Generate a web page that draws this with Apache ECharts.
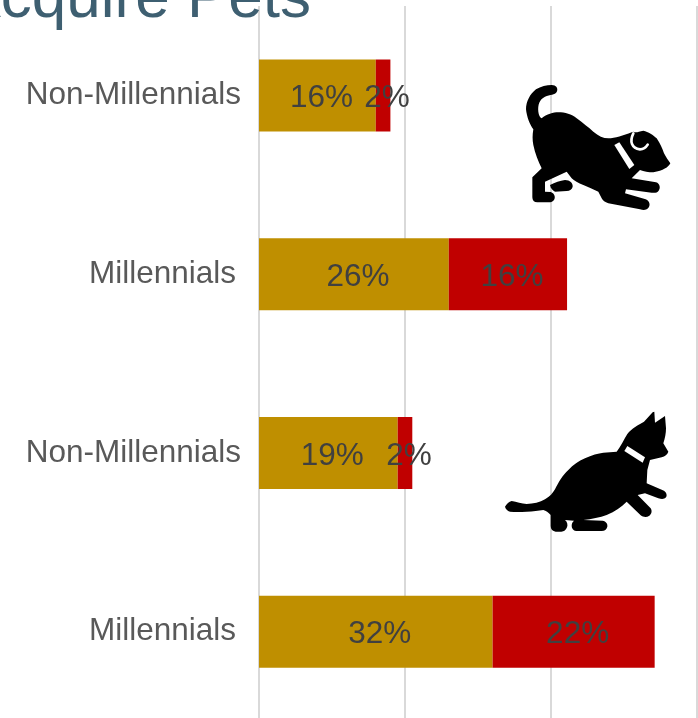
<!DOCTYPE html>
<html><head><meta charset="utf-8">
<style>html,body{margin:0;padding:0;background:#fff}#c{width:698px;height:718px}</style>
<script src="https://cdn.jsdelivr.net/npm/echarts@6/dist/echarts.min.js"></script>
</head><body><div id="c"></div>
<script>
const categories = ['Non-Millennials','Millennials','Non-Millennials','Millennials'];
const goldValues = [16,26,19,32];
const redValues = [2,16.2,2,22.2];
const axisMax = 60;
const titleText = 'Acquire Pets';

const dogBody = 'M155 45C168 45 176 55 170 66C165 75 150 74 135 80C118 88 113 105 115 125C116 135 120 142 125 145C140 132 160 127 175 127C195 127 215 132 230 145C250 160 265 172 280 185C295 198 310 205 325 205C345 205 370 197 395 187L400 185C408 190 415 185 430 182C445 185 460 195 470 205C480 220 487 235 492 250C498 262 505 272 511 280C505 292 490 302 460 307C445 307 432 305 420 300L395 325L468 337C480 340 482 355 476 362C472 368 465 369 455 368L378 358L375 370L437 388C450 393 452 407 444 415C438 421 430 421 420 418L325 400C315 397 308 392 305 385L295 365C280 358 265 352 250 345C235 340 222 332 215 325L200 305L135 335L135 365L152 366C165 370 168 385 160 392C155 397 148 397 140 397L112 397C102 397 97 391 97 382L97 322L125 295C115 275 105 250 100 225C97 210 97 195 100 178C90 165 80 140 78 118C78 95 90 72 108 58C122 49 140 45 155 45Z';
const dogLeg = 'M150 345C165 338 180 332 195 330C210 330 219 340 218 350C216 358 210 362 200 363L165 365C157 362 152 354 150 345Z';
const dogCollar = 'M343 225L358 217L403 285L388 297Z';
const dogEar = 'M400 190C388 215 395 235 420 238C430 238 438 232 443 224';
const catBody = 'M45 320C50 312 57 305 65 303C80 306 95 311 110 312C130 312 150 307 165 298C180 290 188 280 195 268C205 248 218 225 235 210C250 195 265 183 285 175C305 165 325 160 340 158L380 155C392 140 402 118 412 102C425 85 445 75 462 65L488 37L493 35L495 68L525 48L528 85C528 100 525 115 520 130L535 155C532 165 525 168 515 172L480 180L472 210L470 250L522 272C530 277 532 287 528 292C523 298 515 298 505 295L465 280L443 285L482 325C487 332 485 342 478 347C470 353 460 352 452 346L410 305C395 320 375 335 350 345C330 352 305 358 280 360L338 362C348 364 354 372 352 380C350 388 344 393 335 393L258 393C250 392 245 385 245 378C245 370 248 365 252 362L225 360C232 365 234 375 231 382C228 390 222 395 214 395L197 395C188 394 182 388 182 378L182 345C175 338 168 332 160 330C145 332 130 335 110 335C90 336 75 336 60 335C52 332 47 327 45 320Z';
const catCollar = 'M412 138L465 172L458 188L403 153Z';

function piece(pathData, x, y, fill, stroke, sw){
  return {type:'path', x, y, scaleX:1/3, scaleY:1/3,
    shape:{pathData},
    style: stroke ? {fill:'none', stroke, lineWidth:sw, lineCap:'round'} : {fill}};
}
const iconPieces = [
  [dogBody,500,70,'#000'],
  [dogLeg,500,70,'#000'],
  [dogCollar,500,70,'#fff'],
  [dogEar,500,70,null,'#fff',8],
  [catBody,490,400,'#000'],
  [catCollar,490,400,'#fff']
];

const labelStyle = {show:true, position:'inside', fontFamily:'Liberation Sans', fontSize:31.5, color:'#404040',
  offset:[4,3], formatter:p=>Math.round(p.value)+'%'};

const chart = echarts.init(document.getElementById('c'), null, {renderer:'canvas'});
chart.setOption({
  animation:false,
  backgroundColor:'#fff',
  grid:{left:259, top:6, width:438, height:715, containLabel:false, outerBoundsMode:'none'},
  xAxis:{type:'value', min:0, max:axisMax, interval:20,
    axisLabel:{show:false}, axisLine:{show:false}, axisTick:{show:false},
    splitLine:{show:true, lineStyle:{color:'#d9d9d9', width:2}}},
  yAxis:{type:'category', inverse:true, data:categories,
    axisLine:{show:false}, axisTick:{show:false},
    axisLabel:{margin:18, interval:0, fontFamily:'Liberation Sans', fontSize:31.5, color:'#595959',
      formatter:v=> v==='Millennials' ? '{m|'+v+'}' : '{n|'+v+'}',
      rich:{
        m:{fontFamily:'Liberation Sans', fontSize:31.5, color:'#595959', padding:[0,5,0,0]},
        n:{fontFamily:'Liberation Sans', fontSize:31.5, color:'#595959', padding:[0,0,0,0]}
      }}},
  series:[
    {type:'bar', name:'Gold', stack:'a', data:goldValues, barWidth:72, itemStyle:{color:'#bf8f00'}, label:labelStyle},
    {type:'bar', name:'Red', stack:'a', data:redValues, barWidth:72, itemStyle:{color:'#c00000'}, label:labelStyle},
    {type:'custom', name:'Icons', coordinateSystem:'none', silent:true, z:10, clip:false, data:[[0]],
      renderItem:()=>({type:'group', children:iconPieces.map(a=>piece(...a))})}
  ],
  graphic:[
    {type:'text', x:311, y:-31, z:5, silent:true,
      style:{text:titleText, font:'62px "Liberation Sans"', fill:'#3e5f71', textAlign:'right'}}
  ]
});
</script></body></html>
